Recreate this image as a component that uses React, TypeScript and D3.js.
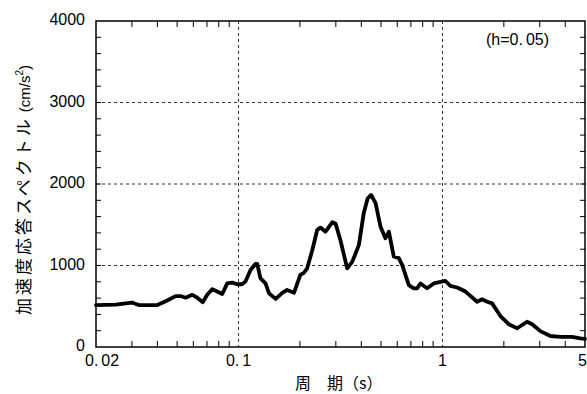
import React from "react";
import * as d3 from "d3";

const periods = [0.02, 0.025, 0.03, 0.0324, 0.04, 0.0447, 0.0491, 0.052, 0.055, 0.0593, 0.0627, 0.0668, 0.0702, 0.0743, 0.0786, 0.0832, 0.088, 0.0931, 0.0985, 0.104, 0.108, 0.1145, 0.121, 0.1235, 0.128, 0.1356, 0.141, 0.152, 0.164, 0.173, 0.187, 0.201, 0.209, 0.217, 0.23, 0.243, 0.252, 0.267, 0.288, 0.299, 0.316, 0.341, 0.361, 0.389, 0.411, 0.43, 0.447, 0.47, 0.497, 0.525, 0.546, 0.577, 0.611, 0.635, 0.684, 0.723, 0.752, 0.78, 0.841, 0.907, 0.978, 1.034, 1.094, 1.18, 1.297, 1.479, 1.565, 1.656, 1.752, 1.924, 2.113, 2.323, 2.6, 2.753, 3.02, 3.38, 3.785, 4.32, 4.74, 5.0];
const accel = [515, 520, 545, 515, 515, 570, 625, 625, 605, 640, 605, 550, 640, 710, 680, 650, 780, 790, 770, 770, 800, 945, 1020, 1020, 845, 780, 660, 590, 665, 700, 665, 885, 910, 965, 1190, 1435, 1465, 1415, 1530, 1515, 1310, 965, 1045, 1250, 1640, 1825, 1865, 1765, 1475, 1335, 1415, 1110, 1090, 1005, 760, 720, 720, 780, 720, 780, 800, 810, 750, 730, 680, 555, 585, 555, 535, 380, 280, 230, 310, 280, 195, 135, 125, 125, 105, 100];

const yTicks = [0, 1000, 2000, 3000, 4000];
const yMinor = d3.range(200, 4000, 200);
const xMajorGrid = [0.1, 1];
const xMinor = [0.03, 0.04, 0.05, 0.06, 0.07, 0.08, 0.09, 0.2, 0.3, 0.4, 0.5, 0.6, 0.7, 0.8, 0.9, 2, 3, 4];

const W = 587, H = 394;
const L = 96, R = 585, T = 21, B = 347;
const numFont = "'Liberation Sans', Arial, sans-serif";
const jpFont = "'Noto Sans CJK JP', sans-serif";

export default function App() {
  const x = d3.scaleLog().domain([0.02, 5]).range([L, R]);
  const y = d3.scaleLinear().domain([0, 4000]).range([B, T]);
  const pts: [number, number][] = periods.map((p, i) => [p, accel[i]]);
  const line = d3.line<[number, number]>().x(d => x(d[0])).y(d => y(d[1])).curve(d3.curveLinear);

  return (
    <svg width={W} height={H} style={{ position: "absolute", left: 0, top: 0 }}>
      <rect width={W} height={H} fill="#fff" />
      {[1000, 2000, 3000].map(v => (
        <line key={"gy" + v} x1={L} x2={R} y1={y(v)} y2={y(v)} stroke="#333" strokeWidth={1} strokeDasharray="3,3" />
      ))}
      {xMajorGrid.map(v => (
        <line key={"gx" + v} x1={x(v)} x2={x(v)} y1={T} y2={B} stroke="#333" strokeWidth={1} strokeDasharray="3,3" />
      ))}
      {yMinor.map(v => (
        <g key={"ym" + v}>
          <line x1={L} x2={L + 5} y1={y(v)} y2={y(v)} stroke="#000" strokeWidth={1} />
          <line x1={R - 5} x2={R} y1={y(v)} y2={y(v)} stroke="#000" strokeWidth={1} />
        </g>
      ))}
      {xMinor.map(v => (
        <g key={"xm" + v}>
          <line x1={x(v)} x2={x(v)} y1={B} y2={B - 6} stroke="#000" strokeWidth={1} />
          <line x1={x(v)} x2={x(v)} y1={T} y2={T + 6} stroke="#000" strokeWidth={1} />
        </g>
      ))}
      <rect x={L} y={T} width={R - L} height={B - T} fill="none" stroke="#000" strokeWidth={1.5} />
      <path d={line(pts) || ""} fill="none" stroke="#000" strokeWidth={3.8} strokeLinejoin="round" strokeLinecap="round" />
      {yTicks.map(v => (
        <text key={"yl" + v} x={85} y={y(v) + 4} textAnchor="end" fontFamily={numFont} fontSize={16} fill="#000">{v}</text>
      ))}
      <text x={85} y={366} fontFamily={numFont} fontSize={16} fill="#000">0.<tspan dx={3}>02</tspan></text>
      <text x={x(0.1)} y={366} textAnchor="middle" fontFamily={numFont} fontSize={16} fill="#000">0.<tspan dx={3}>1</tspan></text>
      <text x={x(1)} y={366} textAnchor="middle" fontFamily={numFont} fontSize={16} fill="#000">1</text>
      <text x={587} y={366} textAnchor="end" fontFamily={numFont} fontSize={16} fill="#000">5</text>
      <text x={295} y={389} fontFamily={jpFont} fontSize={16} fill="#000">周　期（s）</text>
      <text transform="translate(30,315) rotate(-90)" fontFamily={jpFont} fontSize={17} fill="#000">
        <tspan letterSpacing={3}>加速度応答スペクトル</tspan>
        <tspan fontFamily={numFont} fontSize={15} dx={4}>(cm/s</tspan>
        <tspan fontFamily={numFont} fontSize={10} dy={-7}>2</tspan>
        <tspan fontFamily={numFont} fontSize={15} dy={7}>)</tspan>
      </text>
      <text x={486} y={45} fontFamily={numFont} fontSize={16} fill="#000">(h=0.<tspan dx={3}>05)</tspan></text>
    </svg>
  );
}
